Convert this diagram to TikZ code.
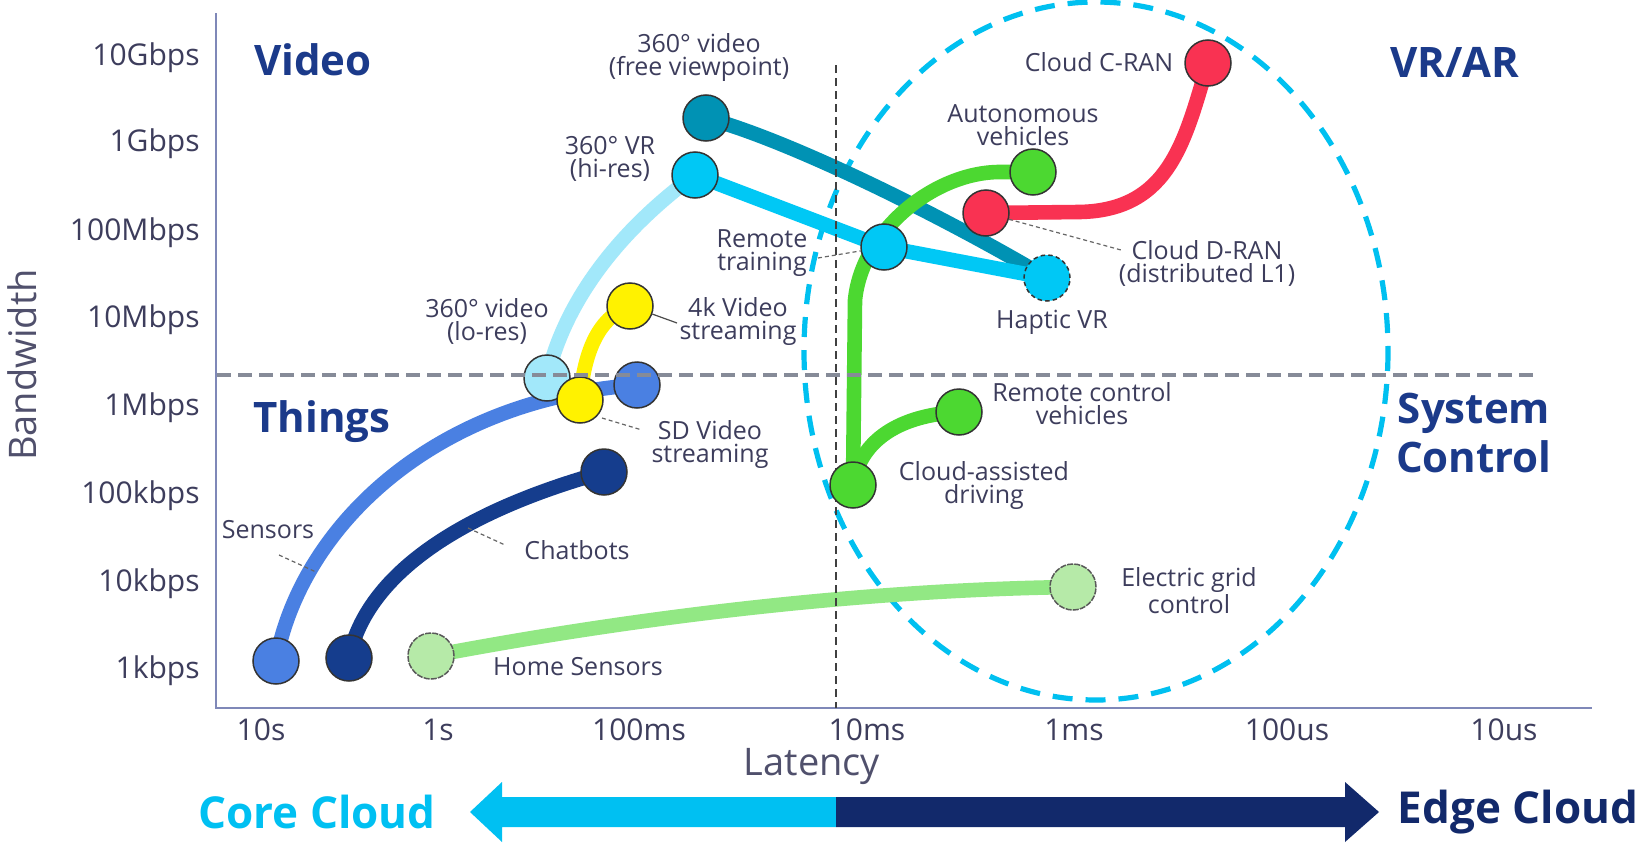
\documentclass[tikz,border=0pt]{standalone}
\usepackage{fontspec}
\setmainfont{Open Sans}
\definecolor{txt}{HTML}{3D3D5C}
\definecolor{axisc}{HTML}{7F88B8}
\definecolor{navyt}{HTML}{1B3A8A}
\definecolor{edgec}{HTML}{12296B}
\definecolor{corec}{HTML}{00C0F2}
\definecolor{sensc}{HTML}{4A80E2}
\definecolor{chatc}{HTML}{153D8D}
\definecolor{homec}{HTML}{92E884}
\definecolor{homef}{HTML}{B6EAA8}
\definecolor{loresc}{HTML}{A2E8FA}
\definecolor{yel}{HTML}{FFF200}
\definecolor{cyanc}{HTML}{00C8F5}
\definecolor{tealc}{HTML}{0092B4}
\definecolor{redc}{HTML}{F93252}
\definecolor{greenc}{HTML}{4CD831}
\definecolor{ellc}{HTML}{00C0F0}
\definecolor{grayd}{HTML}{868B98}
\begin{document}
\begin{tikzpicture}[x=0.5pt,y=-0.5pt,
  dot/.style={circle,minimum size=23pt,inner sep=0pt,draw=black!80,line width=0.75pt},
  finedash/.style={draw=black!65,dash pattern=on 3pt off 0.6pt},
  fat/.style={line width=7.3pt,line join=round},
  lbl/.style={font=\fontsize{12.5}{11.5}\selectfont,text=txt,align=center,inner sep=0pt},
  tick/.style={font=\fontsize{15}{15}\selectfont,text=txt,inner sep=0pt},
  ttl/.style={font=\fontsize{21}{24.5}\selectfont\bfseries,text=navyt,align=center,inner sep=0pt},
  axlbl/.style={font=\fontsize{19}{19}\selectfont,text=txt!90,inner sep=0pt},
  leader/.style={draw=black!60,line width=0.6pt,dash pattern=on 2pt off 1.5pt},
]
\useasboundingbox[fill=white] (0,0) rectangle (1645,846);

% axes
\coordinate (o) at (216,708);
\coordinate (ytop) at (216,13);
\coordinate (xend) at (1592,708);
\draw[axisc,line width=1.3pt] (ytop) -- (o) -- (xend);

% y ticks
\foreach \t/\y in {10Gbps/58,1Gbps/144,100Mbps/233,10Mbps/320,1Mbps/408,100kbps/496,10kbps/584,1kbps/671}
  \node[tick,anchor=east] (y\t) at (200,\y) {\t};
% x ticks
\foreach \t/\x in {10s/261,1s/438,100ms/639,10ms/867,1ms/1074,100us/1287,10us/1504}
  \node[tick] (x\t) at (\x,730) {\t};
\node[axlbl] (latency) at (812,766) {Latency};
\node[axlbl,rotate=90] (bandwidth) at (22,365) {Bandwidth};

% dashed ellipse
\coordinate (ellc0) at (1096,351);
\draw[ellc,line width=2.6pt,dash pattern=on 10pt off 6.5pt] (ellc0) ellipse [x radius=292, y radius=349];

% node positions
\coordinate (p-sens0) at (276,661);
\coordinate (p-chat0) at (349,658);
\coordinate (p-home0) at (431,656);
\coordinate (p-chat1) at (604,472);
\coordinate (p-sens1) at (637,385);
\coordinate (p-lores) at (547,378);
\coordinate (p-sd) at (580,400);
\coordinate (p-k4) at (630,306);
\coordinate (p-vrhi) at (695,175);
\coordinate (p-free) at (706,118);
\coordinate (p-remote) at (884,247);
\coordinate (p-haptic) at (1047,278);
\coordinate (p-dran) at (986,213);
\coordinate (p-cran) at (1208,63);
\coordinate (p-auto) at (1033,172);
\coordinate (p-rcv) at (959,412);
\coordinate (p-cad) at (853,485);
\coordinate (p-grid) at (1073,587);

% curves
\draw[fat,sensc] (p-sens0) .. controls (300,530) and (430,400) .. (p-sens1);
\draw[fat,chatc] (p-chat0) .. controls (365,580) and (450,515) .. (p-chat1);
\draw[fat,homec] (p-home0) .. controls (620,620) and (850,590) .. (p-grid);
\draw[fat,loresc] (p-lores) .. controls (565,300) and (620,230) .. (p-vrhi);
\draw[fat,yel] (p-sd) .. controls (585,340) and (605,315) .. (p-k4);
\draw[fat,tealc] (p-free) .. controls (790,140) and (950,220) .. (p-haptic);
\draw[fat,cyanc] (p-vrhi) -- (p-remote) -- (p-haptic);
\draw[fat,greenc] (p-auto) -- (1000,172) .. controls (935,172) and (862,230) .. (855,300) -- (p-cad);
\draw[fat,greenc] (p-cad) .. controls (860,440) and (900,415) .. (p-rcv);
\draw[fat,redc] (p-dran) -- (1080,212) .. controls (1170,210) and (1185,140) .. (p-cran);

% vertical dashed line
\coordinate (vtop) at (836,65);
\coordinate (vbot) at (836,708);
\draw[black!75,line width=0.8pt,dash pattern=on 4pt off 2.5pt] (vtop) -- (vbot);

% dots
\node[dot,fill=sensc] (sens0) at (p-sens0) {};
\node[dot,fill=chatc] (chat0) at (p-chat0) {};
\node[dot,fill=homef,finedash] (home0) at (p-home0) {};
\node[dot,fill=chatc] (chat1) at (p-chat1) {};
\node[dot,fill=sensc] (sens1) at (p-sens1) {};
\node[dot,fill=loresc] (lores) at (p-lores) {};
\node[dot,fill=yel] (sd) at (p-sd) {};
\node[dot,fill=yel] (k4) at (p-k4) {};
\node[dot,fill=cyanc] (vrhi) at (p-vrhi) {};
\node[dot,fill=tealc] (free) at (p-free) {};
\node[dot,fill=cyanc] (remote) at (p-remote) {};
\node[dot,fill=cyanc,dash pattern=on 2.2pt off 1.6pt] (haptic) at (p-haptic) {};
\node[dot,fill=redc] (dran) at (p-dran) {};
\node[dot,fill=redc] (cran) at (p-cran) {};
\node[dot,fill=greenc] (auto) at (p-auto) {};
\node[dot,fill=greenc] (rcv) at (p-rcv) {};
\node[dot,fill=greenc] (cad) at (p-cad) {};
\node[dot,fill=homef,finedash] (grid) at (p-grid) {};

% horizontal dashed line
\coordinate (hl) at (217,375);
\coordinate (hr) at (1537,375);
\draw[grayd,line width=2pt,dash pattern=on 7pt off 3.5pt] (hl) -- (hr);

% labels
\node[lbl] (l-free) at (699,58) {360° video\\(free viewpoint)};
\node[lbl] (l-vrhi) at (610,159) {360° VR\\(hi-res)};
\node[lbl] (l-lores) at (487,321) {360° video\\(lo-res)};
\node[lbl] (l-k4) at (738,322) {4k Video\\streaming};
\node[lbl] (l-sd) at (710,445) {SD Video\\streaming};
\node[lbl] (l-remote) at (762,253) {Remote\\training};
\node[lbl] (l-cran) at (1099,62) {Cloud C-RAN};
\node[lbl] (l-auto) at (1023,125) {Autonomous\\vehicles};
\node[lbl] (l-dran) at (1207,263) {Cloud D-RAN\\(distributed L1)};
\node[lbl] (l-haptic) at (1052,322) {Haptic VR};
\node[lbl] (l-rcv) at (1082,404) {Remote control\\vehicles};
\node[lbl] (l-cad) at (984,486) {Cloud-assisted\\driving};
\node[lbl] (l-grid) at (1189,591) {Electric grid\\control};
\node[lbl] (l-sens) at (268,530) {Sensors};
\node[lbl] (l-chat) at (577,550) {Chatbots};
\node[lbl] (l-home) at (578,667) {Home Sensors};

% leaders
\coordinate (a1) at (279,555); \coordinate (a2) at (316,572);
\draw[leader] (a1) -- (a2);
\coordinate (b1) at (468,528); \coordinate (b2) at (505,545);
\draw[leader] (b1) -- (b2);
\coordinate (c1) at (602,418); \coordinate (c2) at (642,430);
\draw[leader] (c1) -- (c2);
\coordinate (d2) at (677,323);
\draw[black!70,line width=0.6pt] (k4) -- (d2);
\coordinate (e1) at (818,258);
\draw[leader] (e1) -- (remote);
\coordinate (f2) at (1121,250);
\draw[leader] (dran) -- (f2);

% titles
\node[ttl] (t-video) at (313,60) {Video};
\node[ttl] (t-things) at (322,422) {Things};
\node[ttl] (t-vrar) at (1455,62) {VR/AR};
\node[ttl] (t-sys) at (1474,433) {System\\Control};

% bottom arrow
\coordinate (ltip) at (470,812);
\coordinate (mid) at (836,812);
\coordinate (rtip) at (1379,812);
\fill[corec] (ltip) -- (502,782) -- (502,797) -- (836,797) -- (836,827) -- (502,827) -- (502,842) -- cycle;
\fill[edgec] (836,797) -- (1345,797) -- (1345,782) -- (rtip) -- (1345,842) -- (1345,827) -- (836,827) -- cycle;
\node[font=\fontsize{22}{22}\selectfont\bfseries,text=corec,inner sep=0pt] (core) at (317,812) {Core Cloud};
\node[font=\fontsize{22}{22}\selectfont\bfseries,text=edgec,inner sep=0pt] (edge) at (1518,812) {Edge Cloud};
\end{tikzpicture}
\end{document}
